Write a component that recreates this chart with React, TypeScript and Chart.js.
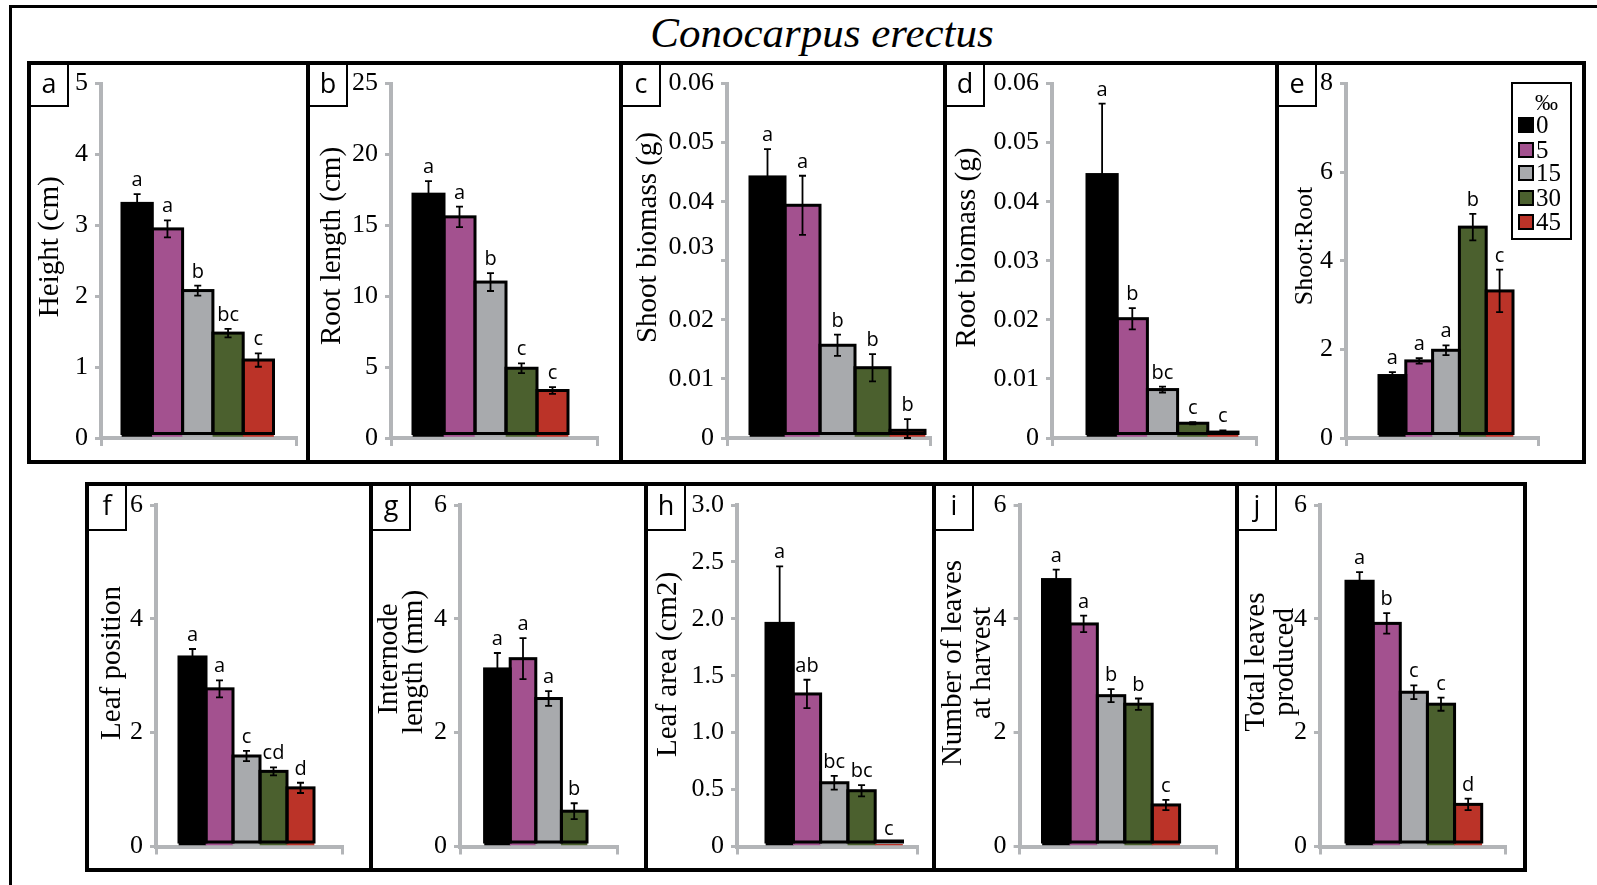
import React, { useEffect, useRef } from 'react';
import { Chart, registerables } from 'chart.js';

Chart.register(...registerables);

const SERIF = '"Liberation Serif", "Times New Roman", Times, serif';
const SANS = '"Open Sans", "DejaVu Sans", Arial, sans-serif';
const AXIS_GREY = '#b3b5b8';
const TICK_FONT = 26;

// Salinity treatments (‰) and their bar colours
const salinity = ['0', '5', '15', '30', '45'];
const salinityColors = ['#000000', '#a3518f', '#a8aaad', '#4b602e', '#bb3328'];

// a — Height (cm)
const heightValues = [3.31, 2.95, 2.08, 1.48, 1.1];
const heightErrors = [0.13, 0.12, 0.07, 0.06, 0.095];
const heightLetters = ['a', 'a', 'b', 'bc', 'c'];
const heightTicks = [0, 1, 2, 3, 4, 5];
const heightTickLabels = ['0', '1', '2', '3', '4', '5'];

// b — Root length (cm)
const rootLengthValues = [17.2, 15.6, 11.0, 4.92, 3.35];
const rootLengthErrors = [0.92, 0.72, 0.63, 0.35, 0.24];
const rootLengthLetters = ['a', 'a', 'b', 'c', 'c'];
const rootLengthTicks = [0, 5, 10, 15, 20, 25];
const rootLengthTickLabels = ['0', '5', '10', '15', '20', '25'];

// c — Shoot biomass (g)
const shootBiomassValues = [0.0442, 0.0394, 0.0157, 0.0119, 0.0013];
const shootBiomassErrors = [0.0047, 0.005, 0.0018, 0.0023, 0.0019];
const shootBiomassLetters = ['a', 'a', 'b', 'b', 'b'];
const biomassTicks = [0, 0.01, 0.02, 0.03, 0.04, 0.05, 0.06];
const biomassTickLabels = ['0', '0.01', '0.02', '0.03', '0.04', '0.05', '0.06'];

// d — Root biomass (g)
const rootBiomassValues = [0.0446, 0.0202, 0.0082, 0.0025, 0.001];
const rootBiomassErrors = [0.012, 0.0018, 0.0005, 0.0002, 0.0003];
const rootBiomassLetters = ['a', 'b', 'bc', 'c', 'c'];

// e — Shoot:Root
const shootRootValues = [1.41, 1.74, 1.98, 4.76, 3.32];
const shootRootErrors = [0.075, 0.06, 0.11, 0.3, 0.48];
const shootRootLetters = ['a', 'a', 'a', 'b', 'c'];
const shootRootTicks = [0, 2, 4, 6, 8];
const shootRootTickLabels = ['0', '2', '4', '6', '8'];

// f — Leaf position
const leafPositionValues = [3.33, 2.77, 1.59, 1.32, 1.03];
const leafPositionErrors = [0.14, 0.15, 0.09, 0.07, 0.09];
const leafPositionLetters = ['a', 'a', 'c', 'cd', 'd'];
const sixTicks = [0, 2, 4, 6];
const sixTickLabels = ['0', '2', '4', '6'];

// g — Internode length (mm)  (no plants at 45 ‰)
const internodeValues = [3.12, 3.3, 2.6, 0.62, null];
const internodeErrors = [0.28, 0.36, 0.13, 0.14, null];
const internodeLetters = ['a', 'a', 'a', 'b', ''];

// h — Leaf area (cm2)
const leafAreaValues = [1.96, 1.34, 0.56, 0.49, 0.02];
const leafAreaErrors = [0.5, 0.125, 0.06, 0.05, 0];
const leafAreaLetters = ['a', 'ab', 'bc', 'bc', 'c'];
const leafAreaTicks = [0, 0.5, 1, 1.5, 2, 2.5, 3];
const leafAreaTickLabels = ['0', '0.5', '1.0', '1.5', '2.0', '2.5', '3.0'];

// i — Number of leaves at harvest
const leavesHarvestValues = [4.69, 3.91, 2.65, 2.5, 0.73];
const leavesHarvestErrors = [0.175, 0.145, 0.115, 0.1, 0.09];
const leavesHarvestLetters = ['a', 'a', 'b', 'b', 'c'];

// j — Total leaves produced
const totalLeavesValues = [4.66, 3.92, 2.71, 2.5, 0.74];
const totalLeavesErrors = [0.16, 0.18, 0.12, 0.115, 0.1];
const totalLeavesLetters = ['a', 'b', 'c', 'c', 'd'];

type TitleLine = { text: string; x: number; y: number };
type PanelDef = {
  id: string;
  box: [number, number, number, number];
  values: (number | null)[];
  errors: (number | null)[];
  letters: string[];
  ticks: number[];
  tickLabels: string[];
  shiftedTick?: { index: number; dy: number };
  axisX: number;
  axisEnd: number;
  topY: number;
  zeroY: number;
  barsLeft: number;
  barsRight: number;
  titles: TitleLine[];
  titleSize: number;
  letterH: number;
};

const TOP = { y: 61, h: 403, topY: 82.5, zeroY: 438, letterH: 46 };
const BOT = { y: 482, h: 390, topY: 505, zeroY: 846.5, letterH: 49 };

const panels: PanelDef[] = [
  { id: 'a', box: [27, TOP.y, 283, TOP.h], values: heightValues, errors: heightErrors, letters: heightLetters,
    ticks: heightTicks, tickLabels: heightTickLabels, axisX: 101, axisEnd: 296, topY: TOP.topY, zeroY: TOP.zeroY,
    barsLeft: 122, barsRight: 273.5, titles: [{ text: 'Height (cm)', x: 50.6, y: 246.7 }], titleSize: 29, letterH: TOP.letterH },
  { id: 'b', box: [306, TOP.y, 317, TOP.h], values: rootLengthValues, errors: rootLengthErrors, letters: rootLengthLetters,
    ticks: rootLengthTicks, tickLabels: rootLengthTickLabels, axisX: 391, axisEnd: 597, topY: TOP.topY, zeroY: TOP.zeroY,
    barsLeft: 413, barsRight: 568, titles: [{ text: 'Root length (cm)', x: 332, y: 246 }], titleSize: 29, letterH: TOP.letterH },
  { id: 'c', box: [619, TOP.y, 328, TOP.h], values: shootBiomassValues, errors: shootBiomassErrors, letters: shootBiomassLetters,
    ticks: biomassTicks, tickLabels: biomassTickLabels, shiftedTick: { index: 3, dy: -14 }, axisX: 727, axisEnd: 930,
    topY: TOP.topY, zeroY: TOP.zeroY, barsLeft: 750, barsRight: 925,
    titles: [{ text: 'Shoot biomass (g)', x: 648, y: 237.5 }], titleSize: 29, letterH: TOP.letterH },
  { id: 'd', box: [943, TOP.y, 336, TOP.h], values: rootBiomassValues, errors: rootBiomassErrors, letters: rootBiomassLetters,
    ticks: biomassTicks, tickLabels: biomassTickLabels, axisX: 1052, axisEnd: 1256, topY: TOP.topY, zeroY: TOP.zeroY,
    barsLeft: 1087, barsRight: 1238, titles: [{ text: 'Root biomass (g)', x: 967.7, y: 247.5 }], titleSize: 29, letterH: TOP.letterH },
  { id: 'e', box: [1275, TOP.y, 311, TOP.h], values: shootRootValues, errors: shootRootErrors, letters: shootRootLetters,
    ticks: shootRootTicks, tickLabels: shootRootTickLabels, axisX: 1346, axisEnd: 1538, topY: TOP.topY, zeroY: TOP.zeroY,
    barsLeft: 1379, barsRight: 1513, titles: [{ text: 'Shoot:Root', x: 1305, y: 246 }], titleSize: 26, letterH: TOP.letterH },
  { id: 'f', box: [85, BOT.y, 288, BOT.h], values: leafPositionValues, errors: leafPositionErrors, letters: leafPositionLetters,
    ticks: sixTicks, tickLabels: sixTickLabels, axisX: 156, axisEnd: 342, topY: BOT.topY, zeroY: BOT.zeroY,
    barsLeft: 179, barsRight: 314, titles: [{ text: 'Leaf position', x: 112, y: 663 }], titleSize: 29, letterH: BOT.letterH },
  { id: 'g', box: [369, BOT.y, 279, BOT.h], values: internodeValues, errors: internodeErrors, letters: internodeLetters,
    ticks: sixTicks, tickLabels: sixTickLabels, axisX: 460, axisEnd: 617.5, topY: BOT.topY, zeroY: BOT.zeroY,
    barsLeft: 484.6, barsRight: 587,
    titles: [{ text: 'Internode', x: 389, y: 659 }, { text: 'length (mm)', x: 414, y: 662 }], titleSize: 29, letterH: BOT.letterH },
  { id: 'h', box: [644, BOT.y, 292, BOT.h], values: leafAreaValues, errors: leafAreaErrors, letters: leafAreaLetters,
    ticks: leafAreaTicks, tickLabels: leafAreaTickLabels, axisX: 737, axisEnd: 917, topY: BOT.topY, zeroY: BOT.zeroY,
    barsLeft: 766, barsRight: 902.5, titles: [{ text: 'Leaf area (cm2)', x: 668, y: 664.5 }], titleSize: 29, letterH: BOT.letterH },
  { id: 'i', box: [932, BOT.y, 307, BOT.h], values: leavesHarvestValues, errors: leavesHarvestErrors, letters: leavesHarvestLetters,
    ticks: sixTicks, tickLabels: sixTickLabels, axisX: 1019.6, axisEnd: 1216, topY: BOT.topY, zeroY: BOT.zeroY,
    barsLeft: 1042.5, barsRight: 1179.6,
    titles: [{ text: 'Number of leaves', x: 953.4, y: 663 }, { text: 'at harvest', x: 982, y: 663 }], titleSize: 29, letterH: BOT.letterH },
  { id: 'j', box: [1235, BOT.y, 292, BOT.h], values: totalLeavesValues, errors: totalLeavesErrors, letters: totalLeavesLetters,
    ticks: sixTicks, tickLabels: sixTickLabels, axisX: 1320, axisEnd: 1505, topY: BOT.topY, zeroY: BOT.zeroY,
    barsLeft: 1346, barsRight: 1481.7,
    titles: [{ text: 'Total leaves', x: 1256.7, y: 662 }, { text: 'produced', x: 1285, y: 662 }], titleSize: 29, letterH: BOT.letterH },
];

const TICK_LEN = 6;
const TICK_PAD = 7;

function PanelChart({ p }: { p: PanelDef }) {
  const ref = useRef<HTMLCanvasElement>(null);
  const [bl, bt, bw, bh] = p.box;

  useEffect(() => {
    const points = salinity
      .map((s, i) => ({ x: i, y: p.values[i], err: p.errors[i] || 0, letter: p.letters[i], color: salinityColors[i], s }))
      .filter((pt) => pt.y !== null && pt.y !== undefined);
    const n = points.length;
    const slot = (p.barsRight - p.barsLeft) / n;
    const xMin = -0.5 - (p.barsLeft - p.axisX) / slot;
    const xMax = -0.5 + (p.axisEnd - p.barsLeft) / slot;

    const decor = {
      id: 'decor',
      afterDatasetsDraw(chart: any) {
        const ctx = chart.ctx;
        const ys = chart.scales.y;
        const meta = chart.getDatasetMeta(0);
        ctx.save();
        // bar outlines (shared edges)
        ctx.strokeStyle = '#000';
        ctx.lineWidth = 3;
        meta.data.forEach((el: any) => {
          const { x, y, base, width } = el.getProps(['x', 'y', 'base', 'width'], true);
          const bottom = base - 3;
          const top = Math.min(y, bottom - 1);
          ctx.strokeRect(x - width / 2, top, width, bottom - top);
        });
        // error bars and letters
        meta.data.forEach((el: any, i: number) => {
          const pt = points[i];
          const { x, y } = el.getProps(['x', 'y'], true);
          let labelY = Math.min(y, ys.getPixelForValue(0) - 4);
          if (pt.err > 0) {
            const yHi = ys.getPixelForValue((pt.y as number) + pt.err);
            const yLo = ys.getPixelForValue(Math.max(0, (pt.y as number) - pt.err));
            ctx.strokeStyle = '#000';
            ctx.lineWidth = 1.8;
            ctx.beginPath();
            ctx.moveTo(x, yHi);
            ctx.lineTo(x, yLo);
            ctx.moveTo(x - 3.5, yHi);
            ctx.lineTo(x + 3.5, yHi);
            ctx.moveTo(x - 3.5, yLo);
            ctx.lineTo(x + 3.5, yLo);
            ctx.stroke();
            labelY = yHi;
          }
          if (pt.letter) {
            ctx.fillStyle = '#000';
            ctx.font = `20px ${SANS}`;
            ctx.textAlign = 'center';
            ctx.textBaseline = 'alphabetic';
            ctx.fillText(pt.letter, x, labelY - 8);
          }
        });
        ctx.restore();
      },
      afterDraw(chart: any) {
        const ctx = chart.ctx;
        ctx.save();
        ctx.fillStyle = '#000';
        ctx.font = `${p.titleSize}px ${SERIF}`;
        ctx.textAlign = 'center';
        ctx.textBaseline = 'middle';
        p.titles.forEach((t) => {
          ctx.save();
          ctx.translate(t.x - bl, t.y - bt);
          ctx.rotate(-Math.PI / 2);
          ctx.fillText(t.text, 0, 0);
          ctx.restore();
        });
        if (p.shiftedTick) {
          const ys = chart.scales.y;
          const v = p.ticks[p.shiftedTick.index];
          ctx.font = `${TICK_FONT}px ${SERIF}`;
          ctx.textAlign = 'right';
          ctx.fillText(p.tickLabels[p.shiftedTick.index], chart.chartArea.left - TICK_LEN - TICK_PAD,
            ys.getPixelForValue(v) + p.shiftedTick.dy);
        }
        ctx.restore();
      },
    };

    const chart = new Chart(ref.current as HTMLCanvasElement, {
      type: 'bar',
      data: {
        datasets: [
          {
            label: p.titles.map((t) => t.text).join(' '),
            data: points.map((pt) => ({ x: pt.x, y: pt.y as number })),
            backgroundColor: points.map((pt) => pt.color),
            borderWidth: 0,
            barPercentage: 1,
            categoryPercentage: 1,
          } as any,
        ],
      },
      options: {
        animation: false,
        responsive: false,
        devicePixelRatio: 1,
        events: [],
        layout: { padding: { top: p.topY - bt, right: bl + bw - p.axisEnd, left: 0, bottom: 0 } },
        plugins: { legend: { display: false }, tooltip: { enabled: false }, title: { display: false } },
        scales: {
          x: {
            type: 'linear',
            min: xMin,
            max: xMax,
            bounds: 'data',
            offset: false,
            z: 1,
            afterBuildTicks: (s: any) => {
              s.ticks = [{ value: xMin }, { value: xMax }];
            },
            afterFit: (s: any) => {
              s.height = bt + bh - p.zeroY;
            },
            ticks: { display: false },
            grid: { drawOnChartArea: false, drawTicks: true, tickLength: 8, color: AXIS_GREY, lineWidth: 3, offset: false },
            border: { display: true, color: AXIS_GREY, width: 4 },
          },
          y: {
            type: 'linear',
            min: 0,
            max: p.ticks[p.ticks.length - 1],
            afterBuildTicks: (s: any) => {
              s.ticks = p.ticks.map((v) => ({ value: v }));
            },
            afterFit: (s: any) => {
              s.width = p.axisX - bl;
            },
            ticks: {
              autoSkip: false,
              color: '#000',
              padding: TICK_PAD,
              font: { family: SERIF, size: TICK_FONT },
              callback: (_v: any, idx: number) =>
                p.shiftedTick && p.shiftedTick.index === idx ? '' : p.tickLabels[idx],
            },
            grid: { drawOnChartArea: false, drawTicks: true, tickLength: TICK_LEN, color: AXIS_GREY, lineWidth: 3 },
            border: { display: true, color: AXIS_GREY, width: 4 },
          },
        },
      } as any,
      plugins: [decor],
    });
    return () => chart.destroy();
  }, []);

  return (
    <div style={{ position: 'absolute', left: bl, top: bt, width: bw, height: bh }}>
      <canvas ref={ref} width={bw} height={bh} style={{ position: 'absolute', left: 0, top: 0, width: bw, height: bh }} />
      <div style={{ position: 'absolute', left: 0, top: 0, width: bw, height: bh, border: '4px solid #000', boxSizing: 'border-box' }} />
      <div
        style={{
          position: 'absolute', left: 0, top: 0, width: 42, height: p.letterH, boxSizing: 'border-box',
          borderStyle: 'solid', borderColor: '#000', borderWidth: '4px 2px 2px 4px',
          display: 'flex', alignItems: 'center', justifyContent: 'center', paddingBottom: 6,
          font: `27px ${SANS}`, color: '#000',
        }}
      >
        {p.id}
      </div>
    </div>
  );
}

function Legend() {
  const rowY = [125, 149.5, 173, 197.5, 222];
  return (
    <>
      <div style={{ position: 'absolute', left: 1511, top: 82, width: 61, height: 158, border: '2px solid #000', boxSizing: 'border-box', background: '#fff' }} />
      <div style={{ position: 'absolute', left: 1535, top: 91, fontFamily: SERIF, fontSize: 23, lineHeight: '23px', color: '#000' }}>‰</div>
      {salinity.map((s, i) => (
        <React.Fragment key={s}>
          <div style={{ position: 'absolute', left: 1518, top: rowY[i] - 8, width: 16, height: 16, boxSizing: 'border-box', border: '2px solid #000', background: salinityColors[i] }} />
          <div style={{ position: 'absolute', left: 1536, top: rowY[i] - 13, fontFamily: SERIF, fontSize: 25, lineHeight: '25px', color: '#000' }}>{s}</div>
        </React.Fragment>
      ))}
    </>
  );
}

export default function App() {
  return (
    <div style={{ position: 'absolute', left: 0, top: 0, width: 1597, height: 885, overflow: 'hidden', background: '#fff' }}>
      <div style={{ position: 'absolute', left: 9, top: 5, width: 1700, height: 1000, border: '3px solid #000' }} />
      <div style={{ position: 'absolute', left: 522, top: 11, width: 600, textAlign: 'center', fontFamily: SERIF, fontStyle: 'italic', fontSize: 43, lineHeight: '43px', color: '#000' }}>
        Conocarpus erectus
      </div>
      {panels.map((p) => (
        <PanelChart key={p.id} p={p} />
      ))}
      <Legend />
    </div>
  );
}
